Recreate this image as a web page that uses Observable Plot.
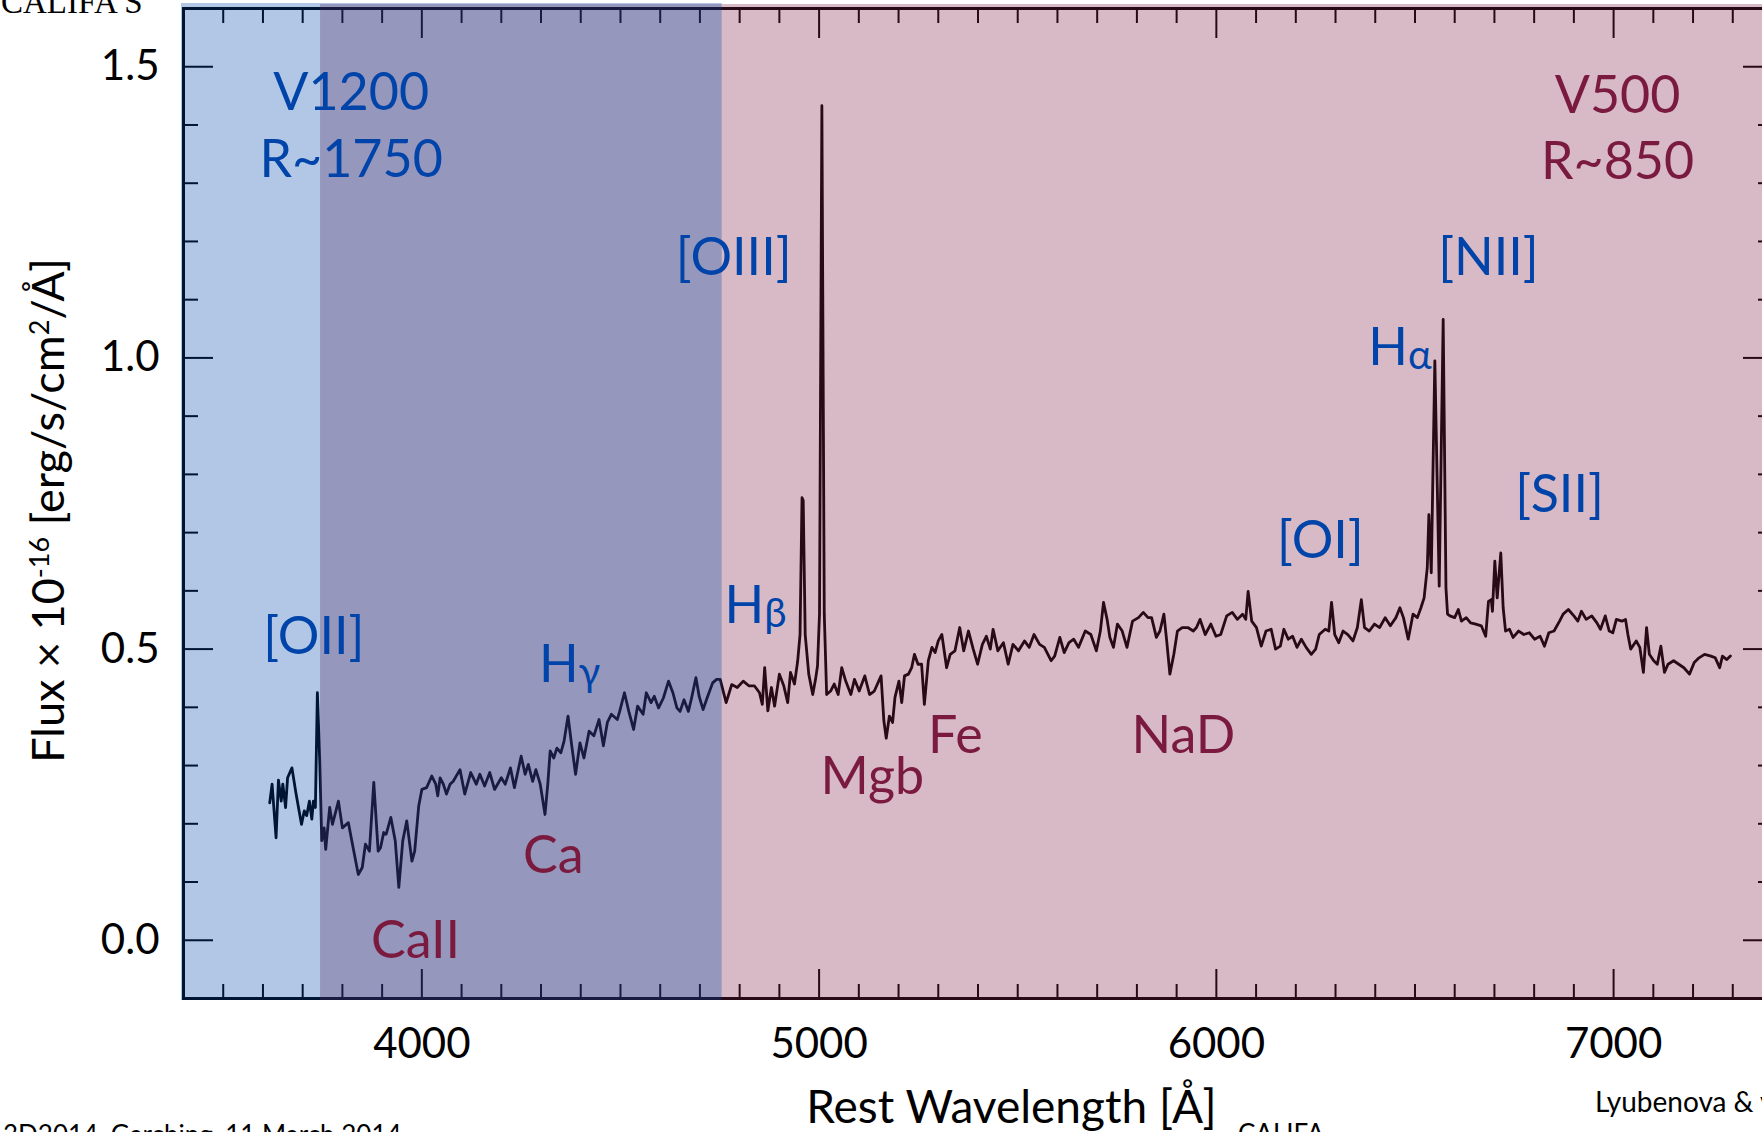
<!DOCTYPE html>
<html>
<head>
<meta charset="utf-8">
<script src="https://cdn.jsdelivr.net/npm/d3@7"></script>
<script src="https://cdn.jsdelivr.net/npm/@observablehq/plot@0.6"></script>
<style>
  html, body { margin: 0; padding: 0; background: #fff; overflow: hidden; width: 1762px; height: 1132px; }
  #chart { position: absolute; left: 0; top: 0; width: 1800px; }
</style>
</head>
<body>
<div id="chart"></div>
<script>
// ---------------- data ----------------
const wavelength = [
  3617,3623,3633,3639,3646,3650,3657,3662,3673,3683,3697,3704,3710,3717,3723,3727,3732,3737,3743,3748,
  3754,3758,3768,3775,3790,3800,3815,3827,3840,3850,3858,3868,3879,3890,3896,3904,3910,3922,3933,3942,
  3952,3962,3975,3982,3992,4000,4012,4025,4035,4040,4046,4054,4062,4071,4079,4096,4108,4123,4137,4146,
  4158,4171,4183,4200,4210,4223,4233,4250,4260,4268,4279,4287,4298,4310,4317,4323,4332,4340,4350,4358,
  4368,4377,4387,4398,4408,4421,4433,4446,4457,4467,4477,4492,4498,4510,4521,4533,4543,4557,4565,4577,
  4585,4596,4608,4621,4632,4642,4650,4660,4671,4679,4690,4698,4708,4718,4732,4742,4751,4766,4780,4794,
  4809,4823,4837,4850,4857,4863,4871,4880,4888,4900,4911,4921,4928,4938,4946,4952,4957,4960,4965,4974,
  4984,4991,4996,5001,5007,5013,5019,5029,5038,5048,5057,5067,5080,5089,5101,5115,5127,5139,5156,5163,
  5169,5177,5185,5191,5201,5208,5215,5225,5233,5240,5249,5258,5265,5275,5284,5292,5300,5309,5321,5330,
  5342,5354,5364,5376,5388,5399,5411,5421,5431,5438,5450,5464,5476,5488,5502,5517,5529,5541,5555,5567,
  5584,5593,5606,5617,5629,5641,5653,5670,5684,5698,5708,5716,5725,5732,5741,5751,5763,5775,5789,5804,
  5816,5828,5837,5849,5858,5868,5875,5883,5893,5902,5914,5928,5942,5950,5959,5972,5986,5999,6011,6026,
  6040,6053,6066,6074,6080,6089,6101,6113,6125,6138,6149,6161,6170,6181,6192,6203,6214,6226,6239,6250,
  6259,6274,6283,6290,6298,6308,6319,6331,6344,6355,6365,6373,6385,6398,6411,6425,6438,6452,6462,6471,
  6483,6495,6506,6515,6523,6531,6535,6541,6550,6561,6571,6578,6582,6588,6600,6609,6617,6629,6640,6653,
  6667,6678,6685,6692,6695,6701,6707,6716,6722,6728,6738,6747,6761,6774,6788,6801,6815,6826,6837,6850,
  6864,6873,6886,6900,6910,6919,6931,6945,6958,6967,6979,6989,6998,7007,7021,7030,7036,7043,7057,7066,
  7075,7083,7090,7101,7110,7119,7128,7137,7151,7164,7177,7191,7203,7215,7229,7245,7256,7267,7274,7285,
  7294
];
const flux = [
  0.236,0.268,0.176,0.275,0.239,0.268,0.228,0.279,0.296,0.253,0.199,0.222,0.214,0.239,0.208,0.239,0.228,0.425,0.308,0.171,
  0.193,0.156,0.228,0.199,0.239,0.193,0.202,0.159,0.113,0.125,0.165,0.153,0.271,0.153,0.159,0.185,0.182,0.211,0.171,0.091,
  0.171,0.205,0.136,0.153,0.230,0.259,0.262,0.282,0.268,0.248,0.279,0.268,0.251,0.268,0.273,0.293,0.251,0.288,0.268,0.285,
  0.265,0.288,0.259,0.279,0.268,0.296,0.262,0.316,0.285,0.302,0.273,0.293,0.268,0.216,0.268,0.325,0.313,0.330,0.322,0.342,
  0.385,0.336,0.285,0.339,0.313,0.359,0.351,0.379,0.334,0.374,0.388,0.379,0.393,0.425,0.393,0.362,0.402,0.388,0.425,0.408,
  0.419,0.399,0.416,0.445,0.425,0.399,0.393,0.413,0.393,0.416,0.451,0.419,0.396,0.416,0.442,0.448,0.448,0.408,0.439,0.434,
  0.445,0.437,0.437,0.425,0.405,0.468,0.394,0.434,0.402,0.457,0.437,0.408,0.460,0.440,0.479,0.525,0.760,0.755,0.525,0.457,
  0.422,0.448,0.471,0.560,1.433,0.560,0.422,0.428,0.440,0.422,0.468,0.445,0.422,0.448,0.428,0.454,0.422,0.428,0.454,0.377,
  0.347,0.385,0.374,0.417,0.445,0.408,0.454,0.457,0.468,0.491,0.474,0.474,0.405,0.480,0.503,0.494,0.514,0.525,0.468,0.491,
  0.497,0.537,0.497,0.531,0.500,0.474,0.508,0.522,0.500,0.534,0.497,0.511,0.474,0.508,0.497,0.514,0.503,0.525,0.508,0.503,
  0.480,0.488,0.520,0.494,0.511,0.517,0.503,0.531,0.525,0.497,0.531,0.580,0.551,0.520,0.503,0.543,0.531,0.503,0.548,0.554,
  0.563,0.554,0.554,0.520,0.531,0.560,0.514,0.457,0.491,0.531,0.537,0.537,0.531,0.537,0.551,0.525,0.543,0.522,0.525,0.557,
  0.563,0.551,0.560,0.551,0.599,0.548,0.537,0.505,0.531,0.534,0.500,0.505,0.534,0.517,0.522,0.503,0.517,0.503,0.491,0.500,
  0.525,0.534,0.531,0.580,0.525,0.511,0.531,0.525,0.514,0.537,0.585,0.537,0.531,0.543,0.537,0.554,0.540,0.554,0.571,0.554,
  0.517,0.560,0.554,0.571,0.588,0.640,0.731,0.631,0.995,0.608,1.066,0.605,0.560,0.557,0.554,0.568,0.548,0.554,0.545,0.543,
  0.540,0.522,0.582,0.585,0.565,0.651,0.588,0.665,0.571,0.531,0.534,0.520,0.531,0.525,0.528,0.517,0.522,0.505,0.528,0.531,
  0.548,0.560,0.568,0.557,0.548,0.565,0.551,0.557,0.545,0.534,0.557,0.531,0.528,0.551,0.548,0.551,0.525,0.500,0.514,0.503,
  0.460,0.537,0.491,0.480,0.474,0.505,0.460,0.474,0.480,0.474,0.468,0.457,0.477,0.485,0.491,0.488,0.485,0.468,0.488,0.482,
  0.488
];

// grating setups (wavelength coverage)
const setupNames = ["V500", "V1200"];
const setupStart = [3745, 3400];
const setupEnd = [7400, 4756];

// setup labels
const setupLabelText = ["V1200", "R~1750", "V500", "R~850"];
const setupLabelX = [3822, 3822, 7010, 7010];
const setupLabelY = [1.425, 1.310, 1.421, 1.308];
const setupLabelGroup = ["V1200", "V1200", "V500", "V500"];

// emission line labels
const emissionText = ["[OII]", "Hγ", "Hβ", "[OIII]", "[OI]", "Hα", "[NII]", "[SII]"];
const emissionX = [3728, 4372, 4840, 4785, 6262, 6462, 6685, 6864];
const emissionY = [0.492, 0.443, 0.544, 1.142, 0.656, 0.987, 1.142, 0.735];

// absorption feature labels
const absorptionText = ["CaII", "Ca", "Mgb", "Fe", "NaD"];
const absorptionX = [3984, 4331, 5134, 5343, 5917];
const absorptionY = [-0.030, 0.116, 0.252, 0.322, 0.322];

// axis ticks
const xMajorTicks = [4000, 5000, 6000, 7000];
const xMinorTicks = [3500,3600,3700,3800,3900,4100,4200,4300,4400,4500,4600,4700,4800,4900,
                     5100,5200,5300,5400,5500,5600,5700,5800,5900,6100,6200,6300,6400,6500,6600,6700,6800,6900,
                     7100,7200,7300];
const yMajorTicks = [0.0, 0.5, 1.0, 1.5];
const yMinorTicks = [0.1,0.2,0.3,0.4,0.6,0.7,0.8,0.9,1.1,1.2,1.3,1.4];

const xLabel = "Rest Wavelength [Å]";
const yLabel = "Flux × 10^{-16} [erg/s/cm^{2}/Å]";

// ---------------- build ----------------
const spectrum = wavelength.map((w, i) => ({w, f: flux[i]}));
const setups = setupNames.map((n, i) => ({name: n, x1: setupStart[i], x2: setupEnd[i]}));
const setupLabels = setupLabelText.map((t, i) => ({t, x: setupLabelX[i], y: setupLabelY[i], g: setupLabelGroup[i]}));
const emission = emissionText.map((t, i) => ({t, x: emissionX[i], y: emissionY[i]}));
const absorption = absorptionText.map((t, i) => ({t, x: absorptionX[i], y: absorptionY[i]}));

const ink = "#000";
const blue = "#0044aa";
const maroon = "#7f2046";
const labelMaroon = "#7a1a3e";
const FONT = "Lato, 'Open Sans', 'DejaVu Sans', sans-serif";

const tickAxis = (fn, ticks, anchor, size) =>
  fn(ticks, {anchor, tickSize: -size, strokeWidth: 2, stroke: ink, fill: "none", label: null});

const svg = Plot.plot({
  width: 1790,
  height: 1150,
  marginLeft: 183,
  marginRight: 18,
  marginTop: 8,
  marginBottom: 152,
  style: {fontFamily: FONT, background: "white", color: "#000", maxWidth: "none", overflow: "hidden"},
  x: {domain: [3400, 7400], axis: null},
  y: {domain: [-0.1, 1.6], axis: null},
  marks: [
    tickAxis(Plot.axisX, xMinorTicks, "bottom", 14),
    tickAxis(Plot.axisX, xMajorTicks, "bottom", 29),
    tickAxis(Plot.axisX, xMinorTicks, "top", 14),
    tickAxis(Plot.axisX, xMajorTicks, "top", 29),
    tickAxis(Plot.axisY, yMinorTicks, "left", 15),
    tickAxis(Plot.axisY, yMajorTicks, "left", 30),
    tickAxis(Plot.axisY, yMinorTicks, "right", 15),
    tickAxis(Plot.axisY, yMajorTicks, "right", 30),
    Plot.axisX(xMajorTicks, {anchor: "bottom", tickSize: 0, tickPadding: 30, fontSize: 42,
      tickFormat: d3.format("d"), label: null, fill: "#000"}),
    Plot.axisY(yMajorTicks, {anchor: "left", tickSize: 0, tickPadding: 24, fontSize: 42,
      tickFormat: d3.format(".1f"), label: null, fill: "#000"}),
    Plot.frame({stroke: ink, strokeWidth: 3}),
    Plot.line(spectrum, {x: "w", y: "f", stroke: ink, strokeWidth: 2.8, strokeLinejoin: "round"}),
    // translucent setup overlays (V500 first, V1200 over it)
    Plot.rect(setups.filter(d => d.name === "V500"), {x1: "x1", x2: "x2", fill: maroon, fillOpacity: 0.31,
      insetTop: -4, insetBottom: -2, insetRight: -20}),
    Plot.rect(setups.filter(d => d.name === "V1200"), {x1: "x1", x2: "x2", fill: blue, fillOpacity: 0.3,
      insetTop: -5, insetBottom: -2, insetLeft: -2}),
    // labels
    Plot.text(setupLabels.filter(d => d.g === "V1200"), {x: "x", y: "y", text: "t", fill: blue,
      fontSize: 52, textAnchor: "middle", lineAnchor: "bottom"}),
    Plot.text(setupLabels.filter(d => d.g === "V500"), {x: "x", y: "y", text: "t", fill: labelMaroon,
      fontSize: 52, textAnchor: "middle", lineAnchor: "bottom"}),
    Plot.text(emission, {x: "x", y: "y", text: "t", fill: blue,
      fontSize: 52, textAnchor: "middle", lineAnchor: "bottom"}),
    Plot.text(absorption, {x: "x", y: "y", text: "t", fill: labelMaroon,
      fontSize: 52, textAnchor: "middle", lineAnchor: "bottom"}),
    Plot.text([xLabel], {x: () => 5484, frameAnchor: "bottom", dy: 124, fontSize: 46,
      textAnchor: "middle", lineAnchor: "bottom", fill: "#000"}),
    Plot.text([yLabel], {frameAnchor: "left", rotate: -90, dx: -120, dy: 7, fontSize: 45,
      textAnchor: "middle", lineAnchor: "bottom", fill: "#000"})
  ]
});

// rich text: superscripts and Greek subscripts
d3.select(svg).selectAll("text").each(function () {
  const s = this.textContent;
  const el = d3.select(this);
  if (s.includes("^{")) {
    const parts = s.split(/\^\{([^}]*)\}/);
    el.text("");
    let raised = false;
    parts.forEach((p, i) => {
      if (!p) return;
      const sup = i % 2 === 1;
      const t = el.append("tspan").text(p);
      if (sup) { t.attr("font-size", 27).attr("dy", -15); raised = true; }
      else if (raised) { t.attr("dy", 15); raised = false; }
    });
  } else if (/^H[αβγ]$/.test(s)) {
    el.text("");
    el.append("tspan").text("H");
    el.append("tspan").text(s.slice(1)).attr("font-size", 40).attr("dy", 4);
  }
});

// slide text around the chart
const notes = d3.select(svg).append("g").attr("text-anchor", "start").attr("fill", "#000");
notes.append("text").attr("x", 1).attr("y", 13).attr("font-family", "'Liberation Serif', serif")
  .attr("font-size", 33).text("CALIFA S");
notes.append("text").attr("x", 3).attr("y", 1144).attr("font-size", 26)
  .text("3D2014, Garching, 11 March 2014");
notes.append("text").attr("x", 1595).attr("y", 1112).attr("font-size", 28)
  .text("Lyubenova & van de Ven");
notes.append("text").attr("x", 1238).attr("y", 1143).attr("font-size", 26)
  .text("CALIFA");

document.getElementById("chart").appendChild(svg);
</script>
</body>
</html>
